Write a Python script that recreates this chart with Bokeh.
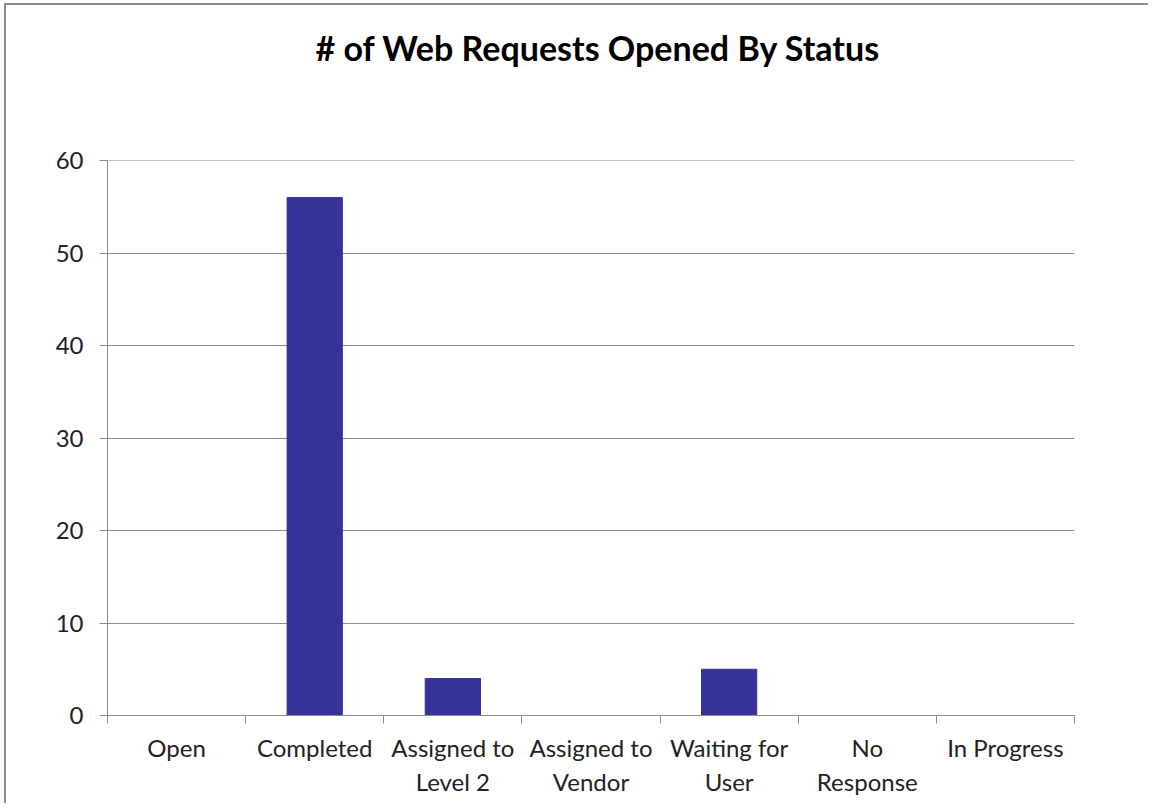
from bokeh.plotting import figure
from bokeh.models import Range1d, FixedTicker, Title
from bokeh.embed import file_html
from bokeh.resources import INLINE

categories = ["Open", "Completed", "Assigned to\nLevel 2", "Assigned to\nVendor",
              "Waiting for\nUser", "No\nResponse", "In Progress"]
values = [0, 56, 4, 0, 5, 0, 0]
y_ticks = [0, 10, 20, 30, 40, 50, 60]
title_text = "# of Web Requests Opened By Status"

FONT = "Lato"
GRAY = "#8c8c8c"
BAR = "#333399"

n = len(categories)
centers = [i + 0.5 for i in range(n)]
bounds = list(range(n + 1))

p = figure(width=1144, height=800, output_backend="svg", toolbar_location=None,
           x_range=Range1d(0, n), y_range=Range1d(0, 60.01),
           min_border_left=101, min_border_right=76, min_border_top=100,
           min_border_bottom=90)
p.styles = {"border-top": "2px solid #8c8c8c", "border-left": "2px solid #8c8c8c",
            "margin-left": "4px", "margin-top": "3px"}

# spacer between the plot area and the title
p.add_layout(Title(text=" ", text_font_size="1px", standoff=70), "above")
p.add_layout(Title(text=title_text, align="left", offset=208, text_font=FONT,
                   text_font_size="34px", text_font_style="bold",
                   text_color="black", standoff=39), "above")

p.vbar(x=centers, top=values, width=0.4, fill_color=BAR, line_color=BAR)

p.outline_line_color = None
p.xgrid.grid_line_color = None
p.ygrid.grid_line_color = GRAY
p.ygrid.grid_line_width = 1

xa = p.xaxis[0]
xa.ticker = FixedTicker(ticks=centers, minor_ticks=bounds)
xa.major_label_overrides = {c: lab for c, lab in zip(centers, categories)}
xa.major_tick_line_color = None
xa.minor_tick_line_color = GRAY
xa.minor_tick_out = 8
xa.minor_tick_in = 0
xa.axis_line_color = GRAY
xa.major_label_text_font = FONT
xa.major_label_text_font_size = "24px"
xa.major_label_text_color = "#222222"
xa.major_label_standoff = 9

ya = p.yaxis[0]
ya.ticker = FixedTicker(ticks=y_ticks)
ya.minor_tick_line_color = None
ya.major_tick_line_color = GRAY
ya.major_tick_out = 8
ya.major_tick_in = 0
ya.axis_line_color = GRAY
ya.major_label_text_font = FONT
ya.major_label_text_font_size = "24px"
ya.major_label_text_color = "#222222"
ya.major_label_standoff = 16

open("out.html", "w").write(file_html(p, INLINE))
